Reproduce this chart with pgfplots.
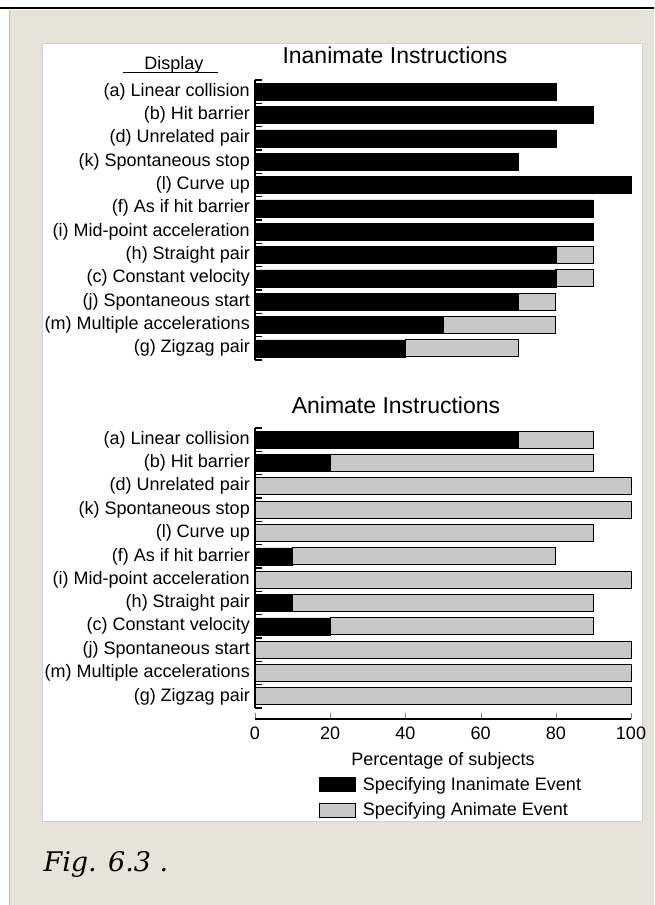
\documentclass[border=0pt]{standalone}
\usepackage{pgfplots}
\pgfplotsset{compat=1.18}
\usepackage{pgfplotstable}
\usepackage{fontspec}
\setmainfont{Liberation Sans}
\newfontfamily\capfont{DejaVu Serif}
\definecolor{beige}{RGB}{230,228,216}
\definecolor{bargray}{RGB}{200,200,200}
\definecolor{panelborder}{RGB}{208,208,208}
\definecolor{leftline}{RGB}{190,190,190}

\pgfplotstableread{
y inan anim
0 80 0
1 90 0
2 80 0
3 70 0
4 100 0
5 90 0
6 90 0
7 80 10
8 80 10
9 70 10
10 50 30
11 40 30
}\topdata

\pgfplotstableread{
y inan anim
0 70 20
1 20 70
2 0 100
3 0 100
4 0 90
5 10 70
6 0 100
7 10 80
8 20 70
9 0 100
10 0 100
11 0 100
}\botdata

\pgfplotsset{
 panel/.style={
  scale only axis, width=376pt, height=280pt, anchor=north west,
  xmin=0, xmax=100, ymin=-0.5, ymax=11.5, y dir=reverse,
  xbar stacked, bar width=0.73, clip=false,
  axis y line*=left,
  axis line style={line width=1.2pt},
  ytick={0,...,11},
  yticklabels={{(a) Linear collision},{(b) Hit barrier},{(d) Unrelated pair},{(k) Spontaneous stop},{(l) Curve up},{(f) As if hit barrier},{(i) Mid-point acceleration},{(h) Straight pair},{(c) Constant velocity},{(j) Spontaneous start},{(m) Multiple accelerations},{(g) Zigzag pair}},
  ytick style={draw=none},
  yticklabel style={font=\fontsize{18}{20}\selectfont, inner sep=0pt, xshift=-5pt},
  extra y ticks={-0.5,0.5,1.5,2.5,3.5,4.5,5.5,6.5,7.5,8.5,9.5,10.5,11.5},
  extra y tick labels={},
  extra y tick style={tick align=inside, major tick length=7pt, ytick style={draw=black, line width=1.2pt}},
  tick align=inside,
  major tick length=6pt,
  /pgf/number format/assume math mode=true,
 },
 blackbar/.style={fill=black, draw=black, line width=0.6pt,
   legend image code/.code={\draw[##1] (0pt,-7pt) rectangle (36pt,7pt);}},
 graybar/.style={fill=bargray, draw=black, line width=0.8pt,
   legend image code/.code={\draw[##1] (0pt,-7pt) rectangle (36pt,7pt);}},
}

\begin{document}
\begin{tikzpicture}
\path[use as bounding box] (0pt,0pt) rectangle (654pt,-905pt);
\fill[white] (0pt,0pt) rectangle (654pt,-905pt);
\fill[beige] (9pt,-10pt) rectangle (654pt,-905pt);
\draw[leftline, line width=1pt] (9pt,-10pt) -- (9pt,-905pt);
\draw[black, line width=2pt] (0pt,-8pt) -- (654pt,-8pt);
\filldraw[fill=white, draw=panelborder, line width=1pt] (42pt,-43pt) rectangle (642pt,-821pt);

\node[anchor=base, font=\fontsize{23}{26}\selectfont] at (395pt,-63pt) {Inanimate Instructions};
\node[anchor=base, font=\fontsize{18}{20}\selectfont] at (174pt,-69pt) {Display};
\draw[line width=1pt] (123pt,-72pt) -- (218pt,-72pt);
\node[anchor=base, font=\fontsize{23}{26}\selectfont] at (396pt,-413pt) {Animate Instructions};

\begin{axis}[panel, at={(255pt,-80pt)}, axis x line=none]
\addplot[blackbar] table[x=inan, y=y] {\topdata};
\addplot[graybar] table[x=anim, y=y] {\topdata};
\end{axis}

\begin{axis}[panel, at={(255pt,-428pt)},
  axis x line*=bottom, axis x line shift=11pt,
  xtick={0,20,40,60,80,100},
  xticklabel style={font=\fontsize{18}{20}\selectfont, yshift=-4pt},
  xlabel={Percentage of subjects},
  xlabel style={font=\fontsize{18}{20}\selectfont, yshift=-6pt},
  legend style={draw=none, fill=none, at={(axis description cs:0.17,-0.246)}, anchor=north west,
    inner sep=0pt, row sep=11pt, column sep=7pt, font=\fontsize{18}{20}\selectfont,
    nodes={inner sep=0pt}},
  legend cell align=left,
  ]
\addplot[blackbar] table[x=inan, y=y] {\botdata};
\addplot[graybar] table[x=anim, y=y] {\botdata};
\legend{Specifying Inanimate Event, Specifying Animate Event}
\end{axis}

\node[anchor=base west, font=\capfont\itshape\fontsize{27}{30}\selectfont] at (40pt,-871.7pt) {Fig. 6.3 .};
\end{tikzpicture}
\end{document}
